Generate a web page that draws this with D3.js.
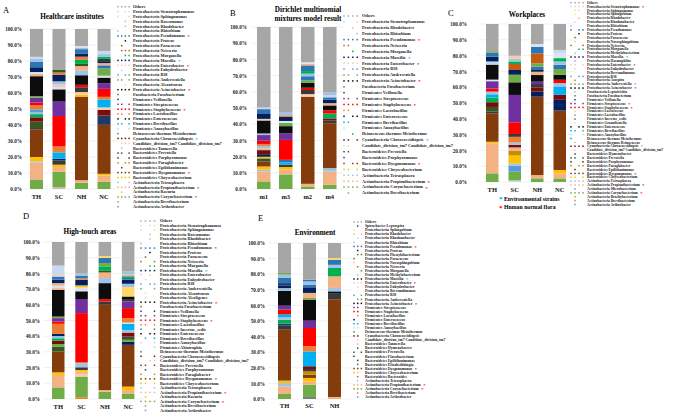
<!DOCTYPE html>
<html>
<head>
<meta charset="utf-8">
<script src="https://cdn.jsdelivr.net/npm/d3@7"></script>
<style>
  body { margin: 0; background: #fff; }
</style>
</head>
<body>
<script>
// ---- categories ----
const catsHosp = ["TH", "SC", "NH", "NC"];
const catsDmm = ["m1", "m3", "m2", "m4"];
const catsEnv = ["TH", "SC", "NH"];

// ---- stacked segments, bottom to top: [genus, percent] ----
const A_TH = [["Corynebacterium",6],["Propionibacterium",10.5],["Tetrasphaera",0.8],["Chryseobacterium",2.7],["Dysgonomonas",17.3],["Epilithonimonas",0.8],["Prevotella",4],["Chroococcidiopsis",2.7],["Meiothermus",2],["Tetrasphaera",1],["B38",2],["Lactobacillus",2.5],["Staphylococcus",1.7],["Streptococcus",3],["Anderseniella",1],["Acinetobacter",12.5],["Propionibacterium",1.4],["Alcaligenes",1.2],["Massilia",3],["Pseudomonas",3.5],["Rhizobium",2],["Stenotrophomonas",1],["Others",17.4]];
const A_SC = [["Tetrasphaera",0.6],["Propionibacterium",0.6],["Corynebacterium",9.5],["Propionibacterium",3],["Chryseobacterium",1.5],["Epilithonimonas",2.7],["Massilia",1],["Brevibacillus",4],["Lactobacillus",3.7],["Staphylococcus",19],["Streptococcus",9],["Acinetobacter",7.7],["Alcaligenes",1.4],["Candidate_division_tm7",1.6],["Tetrasphaera",2],["Massilia",4],["Lactobacillus",1.5],["Prevotella",1.6],["Others",25.6]];
const A_NH = [["Corynebacterium",4],["Propionibacterium",1.5],["Dysgonomonas",52],["Chryseobacterium",1.5],["Candidate_division_tm7",1.6],["Epilithonimonas",3],["Staphylococcus",1.5],["Acinetobacter",6],["Tetrasphaera",3],["Propionibacterium",2.7],["Prevotella",1.4],["Meiothermus",2.5],["Lactobacillus",2],["Massilia",2],["Pseudomonas",2.7],["Rhizobium",1],["Alcaligenes",1],["Others",10.6]];
const A_NC = [["Corynebacterium",4.5],["Propionibacterium",4],["Chryseobacterium",1],["Dysgonomonas",30.6],["Porphyromonas",5.8],["Chroococcidiopsis",3.5],["Candidate_division_tm7",1.6],["Brevibacillus",5],["Lactobacillus",1.6],["Staphylococcus",5],["Streptococcus",3.5],["Acinetobacter",3.5],["Alcaligenes",1.2],["Anderseniella",4.5],["Pseudomonas",2],["Propionibacterium",1.4],["Massilia",1.2],["Epilithonimonas",1.4],["Meiothermus",1.4],["Tetrasphaera",1.6],["Stenotrophomonas",2],["Others",13.7]];

const B_m1 = [["Corynebacterium",4.7],["Propionibacterium",6.2],["Tetrasphaera",1],["Chryseobacterium",2],["Dysgonomonas",3],["Prevotella",2],["Chryseobacterium",1],["Massilia",1.6],["Chroococcidiopsis",2.5],["Propionibacterium",1],["Tetrasphaera",1.6],["Lactobacillus",1.2],["Staphylococcus",2],["Streptococcus",3.5],["Rhizobium",1],["Acinetobacter",8],["Enterobacter",1],["Massilia",3],["Pseudomonas",3],["Stenotrophomonas",1],["Others",49.7]];
const B_m3 = [["Corynebacterium",9],["Propionibacterium",3],["Chryseobacterium",1.6],["Epilithonimonas",1.4],["Brevibacillus",1.4],["Pseudomonas",1.6],["Staphylococcus",12.3],["Streptococcus",4],["Acinetobacter",4.5],["Anderseniella",2],["Alcaligenes",1.2],["Massilia",2.5],["Lactobacillus",1],["Tetrasphaera",2],["Others",52.5]];
const B_m2 = [["Corynebacterium",1.6],["Propionibacterium",1.6],["Dysgonomonas",53.8],["Candidate_division_tm7",1.6],["Epilithonimonas",2.5],["Staphylococcus",1.4],["Acinetobacter",3],["Anderseniella",1.6],["Pseudomonas",2.5],["Tetrasphaera",1.6],["Meiothermus",1.6],["Pseudomonas",3.5],["Propionibacterium",1],["Alcaligenes",1],["Others",21.7]];
const B_m4 = [["Corynebacterium",2.7],["Propionibacterium",8.2],["Tetrasphaera",2],["Dysgonomonas",27.7],["Epilithonimonas",1.6],["Chroococcidiopsis",1.4],["Meiothermus",3],["Staphylococcus",2],["Acinetobacter",3],["Propionibacterium",1.4],["Massilia",2],["Pseudomonas",1.6],["Stenotrophomonas",1.4],["Tetrasphaera",1.6],["Others",40.4]];

const C_TH = [["Corynebacterium",5.5],["Propionibacterium",19],["Chryseobacterium",1],["Dysgonomonas",18],["Epilithonimonas",1],["Prevotella",3],["Chroococcidiopsis",3],["Meiothermus",3],["Brevibacillus",2],["Tetrasphaera",1.7],["Staphylococcus",2],["Streptococcus",4.6],["Alcaligenes",1],["Acinetobacter",9.5],["Enhydrobacter",2],["Massilia",3],["Pseudomonas",2.5],["Anderseniella",1],["Others",17.2]];
const C_SC = [["Stenotrophomonas",1],["Corynebacterium",5.5],["B38",3.8],["Tetrasphaera",1.5],["Chryseobacterium",5],["Paraglabacter",3],["Propionibacterium",2.1],["Chroococcidiopsis",1.6],["Tetrasphaera",1.5],["Lactobacillus",3.6],["Epilithonimonas",1.8],["Staphylococcus",7.4],["Streptococcus",17.3],["Acinetobacter",8],["Anderseniella",4.8],["Massilia",3],["Neisseria",3.8],["Meiothermus",1.6],["Tetrasphaera",1.5],["Enterobacter",2.1],["Others",20.1]];
const C_NH = [["Corynebacterium",2.3],["Propionibacterium",2.1],["Dysgonomonas",49.6],["Massilia",3.2],["Chroococcidiopsis",2.7],["Epilithonimonas",2.1],["Streptococcus",1.5],["Acinetobacter",4.2],["Propionibacterium",2.1],["Massilia",1.5],["Pseudomonas",1.7],["Anderseniella",2.1],["Neisseria",6.3],["Pseudomonas",4.2],["Alcaligenes",1.7],["Others",12.7]];
const C_NC = [["Corynebacterium",2.3],["Propionibacterium",3.2],["Chryseobacterium",2.1],["Dysgonomonas",37.6],["Massilia",6.8],["Chroococcidiopsis",3.2],["Brevibacillus",5.3],["Tetrasphaera",2.1],["Staphylococcus",2.1],["Acinetobacter",3.2],["Anderseniella",3.6],["Pseudomonas",2.7],["Tetrasphaera",2.1],["Meiothermus",2.1],["Alcaligenes",3.1],["Stenotrophomonas",2.1],["Others",16.4]];

const D_TH = [["Corynebacterium",7.4],["Propionibacterium",7.9],["Chryseobacterium",1.7],["Dysgonomonas",13.2],["Prevotella",3.2],["Anderseniella",1.6],["Chroococcidiopsis",2.2],["Meiothermus",1.5],["Tetrasphaera",1.4],["Massilia",1.4],["Lactobacillus",6.4],["Staphylococcus",1.5],["Streptococcus",2.1],["Anderseniella",1],["Acinetobacter",17.1],["Propionibacterium",1],["Alcaligenes",1.5],["Propionibacterium",1.7],["Massilia",2.2],["Pseudomonas",2],["Enterobacter",0.9],["Stenotrophomonas",6.1],["Others",15]];
const D_SC = [["Lactobacillus",1.1],["Corynebacterium",13.2],["Candidate_division_tm7",1.7],["Propionibacterium",1.4],["Chryseobacterium",1.1],["Epilithonimonas",1.7],["Tetrasphaera",2.6],["Lactobacillus",0.6],["Staphylococcus",31.3],["Streptococcus",9],["Acinetobacter",4.9],["Alcaligenes",2.5],["Chryseobacterium",1.3],["Massilia",3.6],["Lactobacillus",0.9],["Pseudomonas",1.7],["Tetrasphaera",1.3],["Others",20.1]];
const D_NH = [["Corynebacterium",4.7],["Propionibacterium",1],["Dysgonomonas",54.3],["Epilithonimonas",2.1],["Staphylococcus",1.5],["Acinetobacter",10.2],["Tetrasphaera",3.2],["Propionibacterium",3.6],["Prevotella",1],["Meiothermus",2.9],["Anderseniella",2.1],["Pseudomonas",3.2],["Sphingomonas",1.2],["Others",9]];
const D_NC = [["Corynebacterium",3.2],["Propionibacterium",2.5],["Chryseobacterium",2.2],["Dysgonomonas",26.6],["Massilia",2.1],["Anderseniella",1.1],["Prevotella",2.1],["Chroococcidiopsis",2.5],["Tetrasphaera",1.7],["Brevibacillus",3.8],["Alcaligenes",0.9],["Lactobacillus",2.8],["Staphylococcus",6.4],["Streptococcus",4.2],["Epilithonimonas",1.1],["Acinetobacter",2.1],["Sphingomonas",6],["Tetrasphaera",2.1],["Massilia",2.6],["Pseudomonas",1.1],["Meiothermus",1.1],["Propionibacterium",1.1],["Tetrasphaera",2.1],["Others",18.6]];

const E_TH = [["Corynebacterium",3.2],["Propionibacterium",4.9],["Tetrasphaera",2.1],["Chryseobacterium",1.6],["Dysgonomonas",32.6],["Epilithonimonas",2.6],["Porphyromonas",1.3],["Meiothermus",2.5],["Tetrasphaera",1.7],["Brevibacillus",1.8],["Staphylococcus",3],["Streptococcus",2.5],["Acinetobacter",9.6],["Tetrasphaera",1.7],["Massilia",1.5],["Veillonella",1.7],["Pseudomonas",3.3],["Tetrasphaera",2.1],["Anderseniella",1.1],["Others",19.2]];
const E_SC = [["Bacteroides",1.3],["Corynebacterium",7.9],["Propionibacterium",2.1],["Chryseobacterium",2.2],["Dysgonomonas",2.1],["Paraglabacter",2.1],["Epilithonimonas",1.5],["Chroococcidiopsis",1.8],["Brevibacillus",9.5],["Lactobacillus",3.3],["Staphylococcus",11.7],["Streptococcus",4.7],["Acinetobacter",13.5],["Anderseniella",1.1],["Propionibacterium",3.2],["Massilia",3.6],["Pseudomonas",1.7],["Tetrasphaera",2.1],["Pseudomonas",1.1],["Others",23.5]];
const E_NH = [["Propionibacterium",1.3],["Dysgonomonas",62.4],["Epilithonimonas",3.8],["Acinetobacter",1.5],["Tetrasphaera",2.2],["Propionibacterium",7.4],["Meiothermus",5.4],["Tetrasphaera",2],["Pseudomonas",3.3],["Sphingomonas",1.1],["Others",9.6]];

// ---- legends: [label, present in bar columns, star (r = human flora, b = environmental)] ----
const legendA = [
  ["Others","1111",""],["Proteobacteria Stenotrophomonas","1011",""],["Proteobacteria Sphingomonas","1001",""],
  ["Proteobacteria Roseomonas","0010",""],["Proteobacteria Rhodobacter","0010",""],["Proteobacteria Rhizobium","1000",""],
  ["Proteobacteria Pseudomonas","1111","r"],["Proteobacteria Proteus","0010",""],["Proteobacteria Paracoccus","0100",""],
  ["Proteobacteria Neisseria","0111",""],["Proteobacteria Morganella","0011",""],["Proteobacteria Massilia","1111","b"],
  ["Proteobacteria Enterobacter","1111","r"],["Proteobacteria Enhydrobacter","0100",""],["Proteobacteria B38","1011",""],
  ["Proteobacteria Anderseniella","1101",""],["Proteobacteria Alcanivorax","0010",""],["Proteobacteria Acinetobacter","1111","r"],
  ["Fusobacteria Fusobacterium","1000",""],["Firmicutes Veillonella","1000",""],["Firmicutes Streptococcus","1101",""],
  ["Firmicutes Staphylococcus","1111","r"],["Firmicutes Lactobacillus","1101",""],["Firmicutes Enterococcus","1011",""],
  ["Firmicutes Brevibacillus","1101",""],["Firmicutes Anoxybacillus","1001",""],["Deinococcus-thermus Meiothermus","1000",""],
  ["Cyanobacteria Chroococcidiopsis","1111","b"],["Candidate_division_tm7 Candidate_division_tm7","0111",""],
  ["Bacteroidetes Tannerella","0100",""],["Bacteroidetes Prevotella","1101",""],["Bacteroidetes Porphyromonas","1001",""],
  ["Bacteroidetes Paraglabacter","1011",""],["Bacteroidetes Epilithonimonas","0100",""],["Bacteroidetes Dysgonomonas","1111","r"],
  ["Bacteroidetes Chryseobacterium","1111",""],["Actinobacteria Tetrasphaera","1001",""],["Actinobacteria Propionibacterium","1111","r"],
  ["Actinobacteria Kocuria","0100",""],["Actinobacteria Corynebacterium","1111","r"],["Actinobacteria Brevibacterium","1000",""],
  ["Actinobacteria Arthrobacter","1000",""]
];
const legendB = [
  ["Others","1111",""],["Proteobacteria Stenotrophomonas","1001",""],["Proteobacteria Rhodobacter","0010",""],
  ["Proteobacteria Rhizobium","0001",""],["Proteobacteria Pseudomonas","1111","r"],["Proteobacteria Neisseria","1100",""],
  ["Proteobacteria Morganella","0010",""],["Proteobacteria Massilia","1111","b"],["Proteobacteria Enterobacter","1111","r"],
  ["Proteobacteria B38","1011",""],["Proteobacteria Anderseniella","1101",""],["Proteobacteria Acinetobacter","1111","r"],
  ["Fusobacteria Fusobacterium","1000",""],["Firmicutes Veillonella","1000",""],["Firmicutes Streptococcus","1101",""],
  ["Firmicutes Staphylococcus","1111","r"],["Firmicutes Lactobacillus","1100",""],["Firmicutes Enterococcus","1011",""],
  ["Firmicutes Brevibacillus","1100",""],["Firmicutes Anoxybacillus","1000",""],["Deinococcus-thermus Meiothermus","0010",""],
  ["Cyanobacteria Chroococcidiopsis","1101","b"],["Candidate_division_tm7 Candidate_division_tm7","1100",""],
  ["Bacteroidetes Prevotella","1100",""],["Bacteroidetes Porphyromonas","1000",""],["Bacteroidetes Dysgonomonas","1011","r"],
  ["Bacteroidetes Chryseobacterium","1101",""],["Actinobacteria Tetrasphaera","1111",""],["Actinobacteria Propionibacterium","1111","r"],
  ["Actinobacteria Corynebacterium","1111","r"],["Actinobacteria Brevibacterium","0100",""]
];
const legendC = [
  ["Others","1111",""],["Proteobacteria Stenotrophomonas","1111","r"],["Proteobacteria Sphingomonas","0110",""],
  ["Proteobacteria Sphingobium","0100",""],["Proteobacteria Rhodobacter","0010",""],["Proteobacteria Rhodanobacter","0100",""],
  ["Proteobacteria Rhizobium","1000",""],["Proteobacteria Pseudomonas","1011",""],["Proteobacteria Proteus","0010",""],
  ["Proteobacteria Paracoccus","0100",""],["Proteobacteria Novosphingobium","0100",""],["Proteobacteria Neisseria","1001",""],
  ["Proteobacteria Morganella","0011",""],["Proteobacteria Methylobacterium","0100",""],["Proteobacteria Massilia","1111","b"],
  ["Proteobacteria Haemophilus","0100",""],["Proteobacteria Enterobacter","1101","r"],["Proteobacteria Enhydrobacter","0100",""],
  ["Proteobacteria Brevundimonas","0100",""],["Proteobacteria B38","1011",""],["Proteobacteria Azospira","0100",""],
  ["Proteobacteria Anderseniella","1111","b"],["Proteobacteria Acinetobacter","1111","r"],["Fusobacteria Leptotrichia","0100",""],
  ["Fusobacteria Fusobacterium","0100",""],["Firmicutes Veillonella","0100",""],["Firmicutes Streptococcus","1101","r"],
  ["Firmicutes Staphylococcus","1111","r"],["Firmicutes Lactococcus","0100",""],["Firmicutes Lactobacillus","0100",""],
  ["Firmicutes Incertae_sedis","0100",""],["Firmicutes Granulicatella","0100",""],["Firmicutes Enterococcus","1011",""],
  ["Firmicutes Brevibacillus","1101",""],["Firmicutes Anoxybacillus","1001",""],["Deinococcus-thermus Meiothermus","1000",""],
  ["Deinococcus-thermus Deinococcus","0100",""],["Cyanobacteria Chroococcidiopsis","1111","b"],
  ["Candidate_division_tm7 Candidate_division_tm7","0100",""],["Bacteroidetes Hymenobacter","0100",""],
  ["Bacteroidetes Prevotella","1101",""],["Bacteroidetes Porphyromonas","1001",""],["Bacteroidetes Paraglabacter","1011",""],
  ["Bacteroidetes Epilithonimonas","0100",""],["Bacteroidetes Dysgonomonas","1111","r"],["Bacteroidetes Chryseobacterium","1101",""],
  ["Actinobacteria Tetrasphaera","1111",""],["Actinobacteria Propionibacterium","1111","r"],["Actinobacteria Microbacterium","0100",""],
  ["Actinobacteria Corynebacterium","1111","r"],["Actinobacteria Brachybacterium","0100",""],["Actinobacteria Brevibacterium","0100",""],
  ["Actinobacteria Arthrobacter","0100",""]
];
const legendD = [
  ["Others","1111",""],["Proteobacteria Stenotrophomonas","1011",""],["Proteobacteria Sphingomonas","1001",""],
  ["Proteobacteria Roseomonas","0010",""],["Proteobacteria Rhodobacter","0010",""],["Proteobacteria Rhizobium","1000",""],
  ["Proteobacteria Pseudomonas","1111","r"],["Proteobacteria Proteus","0010",""],["Proteobacteria Paracoccus","0100",""],
  ["Proteobacteria Neisseria","1001",""],["Proteobacteria Morganella","0011",""],["Proteobacteria Massilia","1111","b"],
  ["Proteobacteria Enterobacter","1010",""],["Proteobacteria Enhydrobacter","0100",""],["Proteobacteria B38","1011",""],
  ["Proteobacteria Anderseniella","1001",""],["Proteobacteria Alcanivorax","0100",""],["Proteobacteria Alcaligenes","0100",""],
  ["Proteobacteria Acinetobacter","1111","r"],["Fusobacteria Fusobacterium","1000",""],["Firmicutes Veillonella","1001",""],
  ["Firmicutes Streptococcus","1101",""],["Firmicutes Staphylococcus","1111","r"],["Firmicutes Lactobacillus","1101",""],
  ["Firmicutes Incertae_sedis","1001",""],["Firmicutes Enterococcus","1011",""],["Firmicutes Brevibacillus","0101",""],
  ["Firmicutes Anoxybacillus","1001",""],["Firmicutes Abiotrophia","0001",""],["Deinococcus-thermus Meiothermus","1000",""],
  ["Cyanobacteria Chroococcidiopsis","1001",""],["Candidate_division_tm7 Candidate_division_tm7","0011",""],
  ["Bacteroidetes Prevotella","1101",""],["Bacteroidetes Porphyromonas","0100",""],["Bacteroidetes Paraglabacter","1001",""],
  ["Bacteroidetes Dysgonomonas","1111","r"],["Bacteroidetes Chryseobacterium","1101",""],["Actinobacteria Tetrasphaera","1001",""],
  ["Actinobacteria Propionibacterium","1111","r"],["Actinobacteria Kocuria","0100",""],["Actinobacteria Corynebacterium","1111","r"],
  ["Actinobacteria Brevibacterium","0100",""],["Actinobacteria Arthrobacter","0100",""]
];
const legendE = [
  ["Others","111",""],["Spirochaetes Leptospira","010",""],["Proteobacteria Sphingobium","100",""],
  ["Proteobacteria Rhodobacter","101",""],["Proteobacteria Rhodanobacter","010",""],["Proteobacteria Rhizobium","100",""],
  ["Proteobacteria Pseudomonas","111","r"],["Proteobacteria Proteus","010",""],["Proteobacteria Phenylobacterium","011",""],
  ["Proteobacteria Paracoccus","100",""],["Proteobacteria Novosphingobium","100",""],["Proteobacteria Neisseria","010",""],
  ["Proteobacteria Morganella","001",""],["Proteobacteria Methylobacterium","010",""],["Proteobacteria Massilia","111","b"],
  ["Proteobacteria Enterobacter","111","r"],["Proteobacteria Enhydrobacter","010",""],["Proteobacteria Brevundimonas","010",""],
  ["Proteobacteria B38","101",""],["Proteobacteria Anderseniella","011",""],["Proteobacteria Acinetobacter","111","r"],
  ["Firmicutes Streptococcus","110",""],["Firmicutes Staphylococcus","110",""],["Firmicutes Lactobacillus","010",""],
  ["Firmicutes Enterococcus","100",""],["Firmicutes Brevibacillus","110",""],["Firmicutes Anoxybacillus","110",""],
  ["Deinococcus-thermus Meiothermus","100",""],["Cyanobacteria Chroococcidiopsis","110",""],
  ["Candidate_division_tm7 Candidate_division_tm7","010",""],["Bacteroidetes Tannerella","010",""],
  ["Bacteroidetes Hymenobacter","010",""],["Bacteroidetes Prevotella","101",""],["Bacteroidetes Flavobacterium","100",""],
  ["Bacteroidetes Epilithonimonas","010",""],["Bacteroidetes Elizabethkingia","010",""],["Bacteroidetes Dysgonomonas","111","r"],
  ["Bacteroidetes Chryseobacterium","110",""],["Bacteroidetes Bacteroides","010",""],["Actinobacteria Tetrasphaera","010",""],
  ["Actinobacteria Propionibacterium","111","r"],["Actinobacteria Corynebacterium","111","r"],["Actinobacteria Brevibacterium","010",""],
  ["Actinobacteria Arthrobacter","010",""]
];

// ---- genus colours ----
const palette = {
  Others: "#a6a6a6", Stenotrophomonas: "#c9d9ee", Sphingomonas: "#ffd966", Sphingobium: "#ffe699",
  Roseomonas: "#9dc3e6", Rhodobacter: "#f4b183", Rhodanobacter: "#bdd7ee", Rhizobium: "#9dc3e6",
  Pseudomonas: "#2e75b6", Proteus: "#0d0d0d", Phenylobacterium: "#548235", Paracoccus: "#7f6000",
  Novosphingobium: "#c9c9c9", Neisseria: "#c55a11", Morganella: "#00b050", Methylobacterium: "#a9d18e",
  Massilia: "#002060", Haemophilus: "#8faadc", Enterobacter: "#f8cbad", Enhydrobacter: "#bdd7ee",
  Brevundimonas: "#fff2cc", B38: "#5b9bd5", Azospira: "#bf9000", Anderseniella: "#70ad47",
  Alcanivorax: "#f8cbad", Alcaligenes: "#dae3f3", Acinetobacter: "#0d0d0d", Leptotrichia: "#9dc3e6",
  Leptospira: "#1f4e79", Fusobacterium: "#548235", Veillonella: "#203864", Streptococcus: "#7030a0",
  Staphylococcus: "#ff0000", Lactococcus: "#c5e0b4", Lactobacillus: "#ed7d31", Incertae_sedis: "#2e75b6",
  Granulicatella: "#d9d9d9", Enterococcus: "#0d0d0d", Brevibacillus: "#00b0f0", Anoxybacillus: "#bdd7ee",
  Abiotrophia: "#c9c9c9", Meiothermus: "#00b050", Deinococcus: "#a9d18e", Chroococcidiopsis: "#7b0c0c",
  Candidate_division_tm7: "#f8cbad", Tannerella: "#9dc3e6", Hymenobacter: "#1f4e79", Prevotella: "#375623",
  Porphyromonas: "#1f3864", Paraglabacter: "#bf9000", Flavobacterium: "#203864", Epilithonimonas: "#3b3838",
  Elizabethkingia: "#595959", Dysgonomonas: "#843c0c", Chryseobacterium: "#ffc000", Bacteroides: "#7f7f7f",
  Tetrasphaera: "#9dc3e6", Propionibacterium: "#f4b183", Microbacterium: "#5b9bd5", Kocuria: "#ffc000",
  Corynebacterium: "#70ad47", Brachybacterium: "#ed7d31", Brevibacterium: "#ed7d31", Arthrobacter: "#5b9bd5"
};

const SERIF = "'Liberation Serif', 'Times New Roman', serif";

const svg = d3.select("body").append("svg")
    .attr("width", 675)
    .attr("height", 412)
    .attr("font-family", SERIF)
    .attr("font-weight", "bold");

// one stacked bar panel
function drawPanel(cfg) {
    const g = svg.append("g");

    const yScale = d3.scaleLinear().domain([0, 100]).range([cfg.yBottom, cfg.yTop]);
    const xScale = d3.scaleBand()
        .domain(cfg.cats)
        .range(cfg.xRange)
        .paddingInner(cfg.pad)
        .paddingOuter(cfg.pad);

    // gridlines
    g.selectAll(".grid")
        .data(d3.range(0, 101, 10))
        .join("line")
        .attr("x1", cfg.xRange[0] + 2)
        .attr("x2", cfg.xRange[1] - 2)
        .attr("y1", d => yScale(d))
        .attr("y2", d => yScale(d))
        .attr("stroke", "#e3e3e3")
        .attr("stroke-width", 0.5);

    // y axis
    const yAxis = d3.axisLeft(yScale)
        .tickValues(d3.range(0, 101, 10))
        .tickSize(0)
        .tickPadding(0)
        .tickFormat(d => d.toFixed(1) + "%");
    g.append("g")
        .attr("transform", "translate(" + cfg.labelRight + ",0)")
        .call(yAxis)
        .call(a => a.select(".domain").remove())
        .selectAll("text")
        .attr("font-family", SERIF)
        .attr("font-weight", "bold")
        .attr("font-size", 5.2)
        .attr("fill", "#222");

    // bars
    cfg.bars.forEach((segs, i) => {
        const ends = Array.from(d3.cumsum(segs, d => d[1]));
        g.append("g").selectAll("rect")
            .data(segs)
            .join("rect")
            .attr("x", xScale(cfg.cats[i]))
            .attr("width", xScale.bandwidth())
            .attr("y", (d, j) => yScale(ends[j]))
            .attr("height", (d, j) => yScale(ends[j] - d[1]) - yScale(ends[j]))
            .attr("fill", d => palette[d[0]]);
    });

    // category labels
    const xAxis = d3.axisBottom(xScale).tickSize(0).tickPadding(0);
    g.append("g")
        .attr("transform", "translate(0," + cfg.catY + ")")
        .call(xAxis)
        .call(a => a.select(".domain").remove())
        .selectAll("text")
        .attr("font-family", SERIF)
        .attr("font-weight", "bold")
        .attr("font-size", 6.5)
        .attr("fill", "#111");

    // title
    cfg.title.forEach((t, k) => {
        g.append("text")
            .attr("x", cfg.titleX)
            .attr("y", cfg.titleY + k * 9.5)
            .attr("text-anchor", "middle")
            .attr("font-size", 7.2)
            .text(t);
    });

    // panel letter
    g.append("text")
        .attr("x", cfg.letterX)
        .attr("y", cfg.letterY)
        .attr("font-weight", "normal")
        .attr("font-size", 8.5)
        .text(cfg.letter);
}

function drawLegend(entries, o) {
    const g = svg.append("g");
    entries.forEach((e, i) => {
        const yy = o.y0 + i * o.dy;
        const genus = e[0].split(" ").pop();
        const col = palette[genus] || "#999";
        e[1].split("").forEach((m, k) => {
            if (m === "1") {
                g.append("rect")
                    .attr("x", o.dotX + k * o.dotStep - 0.75)
                    .attr("y", yy - 0.75)
                    .attr("width", 1.5)
                    .attr("height", 1.5)
                    .attr("fill", col);
            }
        });
        const t = g.append("text")
            .attr("x", o.textX)
            .attr("y", yy)
            .attr("dy", "0.32em")
            .attr("font-size", o.fs)
            .attr("fill", "#222")
            .text(e[0]);
        if (e[2]) {
            const w = t.node().getComputedTextLength();
            g.append("text")
                .attr("x", o.textX + w + 2.5)
                .attr("y", yy)
                .attr("dy", "0.5em")
                .attr("font-size", o.fs + 0.6)
                .attr("fill", e[2] === "r" ? "#ff0000" : "#00b0f0")
                .text("*");
        }
    });
}

drawPanel({ cats: catsHosp, bars: [A_TH, A_SC, A_NH, A_NC], xRange: [20.5, 120], pad: 0.42,
    yBottom: 189, yTop: 29, labelRight: 22, catY: 194, title: ["Healthcare institutes"],
    titleX: 72, titleY: 18.5, letter: "A", letterX: 3, letterY: 13 });
drawLegend(legendA, { dotX: 118, dotStep: 3.7, textX: 133, y0: 6.7, dy: 4.88, fs: 4.2 });

drawPanel({ cats: catsDmm, bars: [B_m1, B_m3, B_m2, B_m4], xRange: [248.5, 345], pad: 0.386,
    yBottom: 189, yTop: 27, labelRight: 247, catY: 194, title: ["Dirichlet multinomial", "mixtures model result"],
    titleX: 308, titleY: 11.5, letter: "B", letterX: 230, letterY: 16 });
drawLegend(legendB, { dotX: 344, dotStep: 4.4, textX: 362, y0: 16, dy: 5.9, fs: 4.3 });

drawPanel({ cats: catsHosp, bars: [C_TH, C_SC, C_NH, C_NC], xRange: [476, 576], pad: 0.444,
    yBottom: 182, yTop: 24, labelRight: 467, catY: 187, title: ["Workplaces"],
    titleX: 527, titleY: 17, letter: "C", letterX: 448, letterY: 16 });
drawLegend(legendC, { dotX: 571, dotStep: 4, textX: 587, y0: 2.7, dy: 3.88, fs: 3.6 });

// star key under panel C
svg.append("text").attr("x", 499).attr("y", 201).attr("font-size", 7).attr("fill", "#00b0f0").text("*");
svg.append("text").attr("x", 504).attr("y", 200.5).attr("font-size", 5.8).text("Environmental strains");
svg.append("text").attr("x", 499).attr("y", 210).attr("font-size", 7).attr("fill", "#ff0000").text("*");
svg.append("text").attr("x", 504).attr("y", 209).attr("font-size", 5.8).text("Human normal flora");

drawPanel({ cats: catsHosp, bars: [D_TH, D_SC, D_NH, D_NC], xRange: [41.2, 145.2], pad: 0.4635,
    yBottom: 399, yTop: 242, labelRight: 40, catY: 404, title: ["High-touch areas"],
    titleX: 90, titleY: 234, letter: "D", letterX: 23, letterY: 219 });
drawLegend(legendD, { dotX: 141, dotStep: 4.5, textX: 160, y0: 221, dy: 4.51, fs: 4.2 });

drawPanel({ cats: catsEnv, bars: [E_TH, E_SC, E_NH], xRange: [266, 353], pad: 0.48,
    yBottom: 399, yTop: 243, labelRight: 265, catY: 403, title: ["Environment"],
    titleX: 315, titleY: 235, letter: "E", letterX: 258, letterY: 221 });
drawLegend(legendE, { dotX: 354, dotStep: 3.7, textX: 365, y0: 222, dy: 4.07, fs: 3.8 });
</script>
</body>
</html>
